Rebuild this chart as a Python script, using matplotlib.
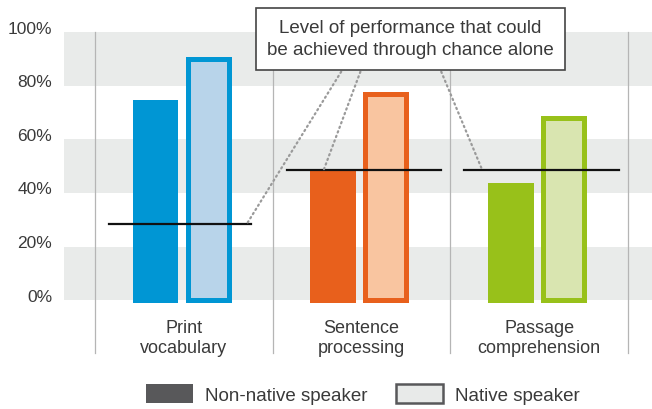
import matplotlib.pyplot as plt
from matplotlib.patches import Patch
from matplotlib.transforms import ScaledTranslation

# === Data ===
categories = ['Print\nvocabulary', 'Sentence\nprocessing', 'Passage\ncomprehension']
non_native = [74, 48, 43]
native = [90, 77, 68]
chance = [28.5, 48.5, 48.5]
yticks = [0, 20, 40, 60, 80, 100]

# === Colours ===
dark_cols = ['#0096d4', '#e8601c', '#98c11a']
light_cols = ['#b8d4ea', '#f9c5a0', '#d9e5b0']
text_col = '#3a3a3a'

plt.rcParams['font.family'] = ['Liberation Sans', 'DejaVu Sans']
plt.rcParams['font.size'] = 13

fig = plt.figure(figsize=(6.52, 4.10), dpi=100)
ax = fig.add_axes([64 / 652, 1 - 301.3 / 410, 1 - 64 / 652, (301.3 - 33) / 410])

px = 1 / 178  # one pixel in x data units
x = list(range(len(categories)))

# === Background bands ===
for lo in (0, 40, 80):
    ax.axhspan(lo, lo + 20, color='#e9ebea', lw=0, zorder=0)

# === Separators ===
for sep in [-0.5, 0.5, 1.5, 2.5]:
    ax.plot([sep, sep], [100, -19.7], color='#b5b5b5', lw=0.9, clip_on=False, zorder=1)

# === Bars ===
bw = 41 * px
lw = 5 * 72 / 100
for i in x:
    ax.bar(i - 0.162, non_native[i], width=bw, color=dark_cols[i], edgecolor=dark_cols[i],
           lw=lw, joinstyle='miter', clip_on=False, zorder=2)
    ax.bar(i + 0.137, native[i], width=bw, color=light_cols[i], edgecolor=dark_cols[i],
           lw=lw, joinstyle='miter', clip_on=False, zorder=2)

# === Chance lines ===
right_ext = [0.376, 0.445, 0.449]
for i in x:
    ax.plot([i - 0.421, i + right_ext[i]], [chance[i], chance[i]], color='#111111', lw=1.6, zorder=3)

# === Annotation box with dotted leaders ===
ax.text(1.275, 97.5, 'Level of performance that could\nbe achieved through chance alone',
        ha='center', va='center', color=text_col, fontsize=13.5, linespacing=1.42,
        bbox=dict(boxstyle='square,pad=0.6', fc='white', ec='#444444', lw=1.2),
        zorder=5, clip_on=False)
leaders = [(0.886, 0.355, 0), (0.994, 0.787, 1), (1.449, 1.68, 2)]
for x0, x1, i in leaders:
    ax.plot([x0, x1], [85.2, chance[i]], color='#9a9a9a', lw=1.6, ls=(0, (0.6, 1.6)),
            dash_capstyle='round', zorder=4, clip_on=False)

# === Axes ===
ax.set_xlim(-0.674, 2.635)
ax.set_ylim(0, 100)
ax.set_yticks(yticks)
ax.set_yticklabels([f'{v}%' for v in yticks], color=text_col, fontsize=12.5)
ax.set_xticks(x)
ax.set_xticklabels(categories, color=text_col, linespacing=1.25)
ax.tick_params(axis='y', length=0, pad=8.5)
ax.tick_params(axis='x', length=0, pad=13.5)
for lbl in ax.get_yticklabels():
    lbl.set_transform(lbl.get_transform() + ScaledTranslation(0, 0.055, fig.dpi_scale_trans))
for s in ax.spines.values():
    s.set_visible(False)

# === Legend ===
handles = [Patch(fc='#58585a', ec='#58585a', lw=0),
           Patch(fc='#e8eae9', ec='#58585a', lw=1.8)]
fig.legend(handles, ['Non-native speaker', 'Native speaker'], loc='center',
           bbox_to_anchor=(363 / 652, 1 - 395 / 410), ncol=2, frameon=False,
           handlelength=2.5, handleheight=1.17, handletextpad=0.67, columnspacing=1.5,
           labelcolor=text_col, fontsize=13.5)

fig.savefig('out.png', dpi=100)
